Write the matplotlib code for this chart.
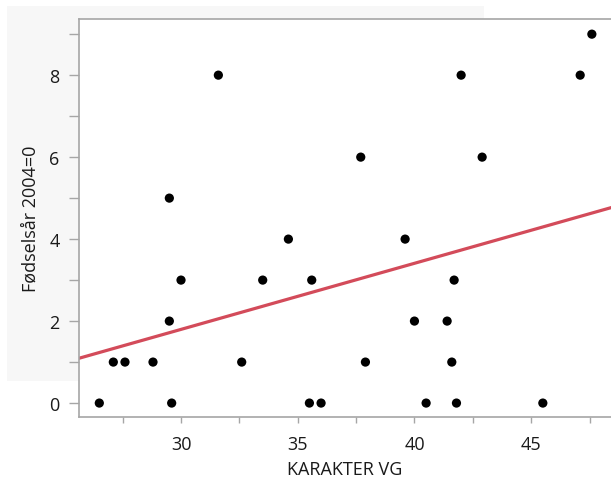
import matplotlib.pyplot as plt
import matplotlib.patches as mpatches
from matplotlib.ticker import MultipleLocator
import numpy as np

plt.rcParams["font.family"] = ["Open Sans", "DejaVu Sans"]

# karakter VG vs fødselsår (2004=0)
karakter = [26.5, 27.1, 27.6, 28.8, 29.5, 29.6, 29.5, 30.0, 31.6, 32.6,
            33.5, 34.6, 35.5, 35.6, 36.0, 37.7, 37.9, 39.6, 40.0, 40.5,
            41.4, 41.6, 41.7, 41.8, 42.0, 42.9, 45.5, 47.1, 47.6]
fodselsar = [0, 1, 1, 1, 2, 0, 5, 3, 8, 1,
             3, 4, 0, 3, 0, 6, 1, 4, 2, 0,
             2, 1, 3, 0, 8, 6, 0, 8, 9]
x_ticks = [30, 35, 40, 45]
y_ticks = [0, 2, 4, 6, 8]

W, H = 611, 481
fig = plt.figure(figsize=(W / 100, H / 100), dpi=100)

# light grey panel behind the upper-left part
fig.patches.append(mpatches.Rectangle((7 / W, 1 - 382 / H), (484 - 7) / W, (382 - 7) / H,
                                      transform=fig.transFigure, facecolor="#f7f7f7",
                                      edgecolor="none", zorder=0))

ax = fig.add_axes([79 / W, 1 - 418 / H, 1 - 79 / W, (418 - 20) / H])
ax.set_zorder(2)
ax.set_facecolor("white")

ax.scatter(karakter, fodselsar, s=44, color="black", edgecolors="none", zorder=3)

xlim = (25.63, 48.42)
slope, intercept = np.polyfit(karakter, fodselsar, 1)
xs = np.array(xlim)
ax.plot(xs, intercept + slope * xs, color="#d34b5a", lw=2.3, zorder=2)

ax.set_xlim(*xlim)
ax.set_ylim(-0.34, 9.37)
ax.set_xticks(x_ticks)
ax.set_yticks(y_ticks)
ax.xaxis.set_minor_locator(MultipleLocator(2.5))
ax.yaxis.set_minor_locator(MultipleLocator(1))

for side in ["left", "top", "bottom"]:
    ax.spines[side].set_color("#a6a6a6")
    ax.spines[side].set_linewidth(1.2)
ax.spines["right"].set_visible(False)

ax.tick_params(axis="y", which="both", length=7, width=1, color="#a6a6a6",
               labelsize=13, pad=7, labelcolor="#1a1a1a")
ax.tick_params(axis="x", which="both", length=4.2, width=1, color="#a6a6a6",
               labelsize=13, pad=9, labelcolor="#1a1a1a")

ax.set_xlabel("KARAKTER VG", fontsize=13, color="#1a1a1a", labelpad=5)
ax.set_ylabel("Fødselsår 2004=0", fontsize=13, color="#1a1a1a", labelpad=7)

fig.savefig("out.png", dpi=100)
